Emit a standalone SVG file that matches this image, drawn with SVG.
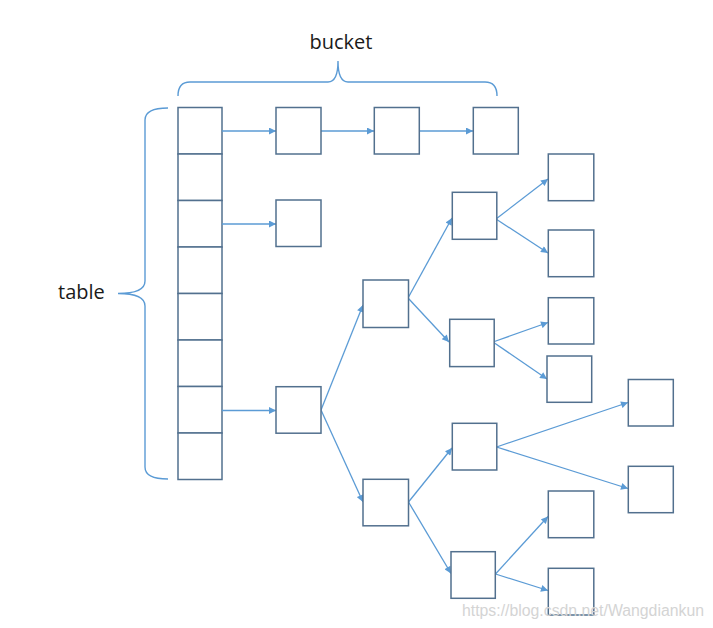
<svg xmlns="http://www.w3.org/2000/svg" width="713" height="628" viewBox="0 0 713 628">
<defs>
<style>
.box{fill:#ffffff;stroke:#52708e;stroke-width:1.5}
.cn{fill:none;stroke:#5b9bd5;stroke-width:1.3;marker-end:url(#ah)}
.br{fill:none;stroke:#5b9bd5;stroke-width:1.4}
.lbl{font-family:"Open Sans","Noto Sans",sans-serif;font-size:20px;fill:#1a1a1a}
.wm{font-family:"Liberation Sans",Arial,sans-serif;font-size:16px;fill:#d4d4d4}
</style>
<marker id="ah" viewBox="0 0 10 10" refX="10" refY="5" markerWidth="9" markerHeight="7" markerUnits="userSpaceOnUse" orient="auto">
<path d="M0,0 L10,5 L0,10 z" fill="#5b9bd5"/>
</marker>
</defs>
<rect width="713" height="628" fill="#ffffff"/>

<g id="brace-bucket">
<path class="br" d="M178,96 Q178,82 190,82 L328,82 Q338,82 338,61 Q338,82 348,82 L485,82 Q497,82 497,96"/>
<text class="lbl" x="341" y="49" text-anchor="middle">bucket</text>
</g>
<g id="brace-table">
<path class="br" d="M168,108 Q145,108 145,120 L145,281 Q145,293.5 118,293.5 Q145,293.5 145,306 L145,467 Q145,479 168,479"/>
<text class="lbl" x="58" y="299">table</text>
</g>

<g id="table">
<rect class="box" x="178" y="107.5" width="44" height="46.5"/>
<rect class="box" x="178" y="154" width="44" height="46.5"/>
<rect class="box" x="178" y="200.5" width="44" height="46.5"/>
<rect class="box" x="178" y="247" width="44" height="46.5"/>
<rect class="box" x="178" y="293.5" width="44" height="46.5"/>
<rect class="box" x="178" y="340" width="44" height="46.5"/>
<rect class="box" x="178" y="386.5" width="44" height="46.5"/>
<rect class="box" x="178" y="433" width="44" height="46.5"/>
</g>

<g id="connectors">
<line class="cn" x1="222" y1="131" x2="276" y2="131"/>
<line class="cn" x1="321" y1="131" x2="374" y2="131"/>
<line class="cn" x1="419" y1="131" x2="473" y2="131"/>
<line class="cn" x1="222" y1="224" x2="276" y2="224"/>
<line class="cn" x1="222" y1="410.5" x2="276" y2="410.5"/>
<line class="cn" x1="321" y1="410" x2="363" y2="305"/>
<line class="cn" x1="321" y1="410" x2="363" y2="502"/>
<line class="cn" x1="408" y1="298" x2="452" y2="218"/>
<line class="cn" x1="408" y1="298" x2="449" y2="342"/>
<line class="cn" x1="496" y1="219" x2="548" y2="179"/>
<line class="cn" x1="496" y1="219" x2="548" y2="253"/>
<line class="cn" x1="493" y1="342" x2="548" y2="322.5"/>
<line class="cn" x1="493" y1="342" x2="547" y2="379"/>
<line class="cn" x1="408.5" y1="502" x2="452" y2="448"/>
<line class="cn" x1="408.5" y1="502" x2="451" y2="573.5"/>
<line class="cn" x1="496.5" y1="447" x2="628" y2="402.5"/>
<line class="cn" x1="496.5" y1="447" x2="628" y2="488.5"/>
<line class="cn" x1="495.5" y1="574" x2="548" y2="516.5"/>
<line class="cn" x1="495.5" y1="574" x2="548" y2="590.5"/>
</g>

<g id="bucket1"><rect class="box" x="276" y="107.5" width="45" height="46.5"/></g>
<g id="bucket2"><rect class="box" x="374.3" y="107.5" width="45" height="46.5"/></g>
<g id="bucket3"><rect class="box" x="473.3" y="107.5" width="45" height="46.5"/></g>
<g id="single"><rect class="box" x="276" y="200" width="45" height="46.5"/></g>
<g id="root"><rect class="box" x="276" y="386.7" width="45" height="46.5"/></g>
<g id="nodeA"><rect class="box" x="363" y="280" width="45.5" height="47.5"/></g>
<g id="nodeB"><rect class="box" x="452.3" y="192.3" width="44.5" height="47"/></g>
<g id="nodeC"><rect class="box" x="449.7" y="319.3" width="44.5" height="47.3"/></g>
<g id="nodeD"><rect class="box" x="363" y="479.3" width="45.5" height="46.5"/></g>
<g id="nodeE"><rect class="box" x="452.3" y="423.3" width="44.5" height="46.7"/></g>
<g id="nodeF"><rect class="box" x="451" y="551.7" width="44.3" height="46.6"/></g>
<g id="leaf1"><rect class="box" x="548.3" y="154" width="45.5" height="46.7"/></g>
<g id="leaf2"><rect class="box" x="548.3" y="230" width="45.5" height="46.7"/></g>
<g id="leaf3"><rect class="box" x="548.3" y="297.7" width="45.5" height="46.3"/></g>
<g id="leaf4"><rect class="box" x="547" y="356" width="44.7" height="46.3"/></g>
<g id="leaf5"><rect class="box" x="628.3" y="379.5" width="45" height="46.5"/></g>
<g id="leaf6"><rect class="box" x="628.3" y="466.3" width="45" height="46.4"/></g>
<g id="leaf7"><rect class="box" x="548.3" y="491" width="45.5" height="46.7"/></g>
<g id="leaf8"><rect class="box" x="548.3" y="568.3" width="45.5" height="46.7"/></g>

<text class="wm" x="462" y="616" textLength="242" lengthAdjust="spacingAndGlyphs">https://blog.csdn.net/Wangdiankun</text>
</svg>
